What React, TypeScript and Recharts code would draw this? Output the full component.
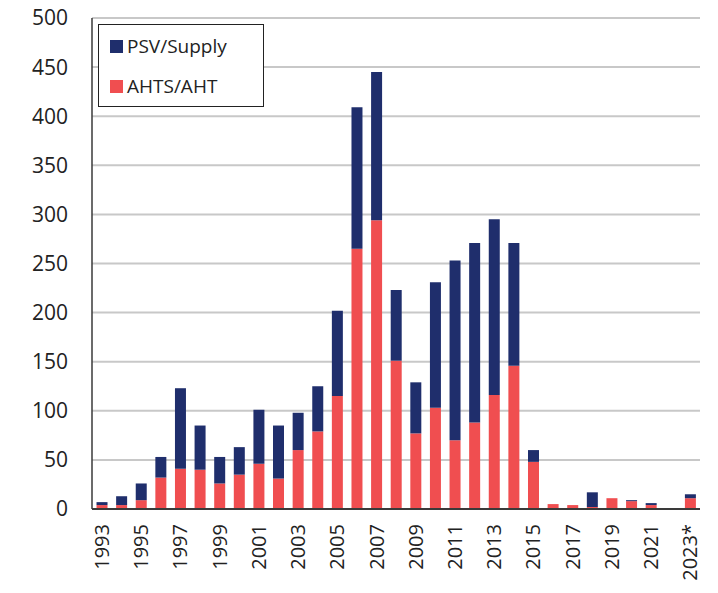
import { BarChart, Bar, XAxis, YAxis, CartesianGrid } from "recharts";

// values (vessel counts per year)
const years = [
  "1993", "1994", "1995", "1996", "1997", "1998", "1999", "2000", "2001", "2002",
  "2003", "2004", "2005", "2006", "2007", "2008", "2009", "2010", "2011", "2012",
  "2013", "2014", "2015", "2016", "2017", "2018", "2019", "2020", "2021", "2022", "2023*",
];
const ahts = [4, 4, 9, 32, 41, 40, 26, 35, 46, 31, 60, 79, 115, 265, 294, 151, 77, 103, 70, 88, 116, 146, 48, 5, 4, 2, 11, 8, 4, 0, 11];
const psv = [3, 9, 17, 21, 82, 45, 27, 28, 55, 54, 38, 46, 87, 144, 151, 72, 52, 128, 183, 183, 179, 125, 12, 0, 0, 15, 0, 1, 2, 0, 4];
const yTicks = [0, 50, 100, 150, 200, 250, 300, 350, 400, 450, 500];
const seriesNames = ["PSV/Supply", "AHTS/AHT"];

const NAVY = "#1f2e6c";
const RED = "#f04e50";
const FONT = "'Open Sans', 'DejaVu Sans', sans-serif";

const data = years.map((y, i) => ({ year: y, ahts: ahts[i], psv: psv[i] }));

function YearTick({ x, y, payload }: any) {
  return (
    <g transform={`translate(${x},${y + 13})`}>
      <text transform="rotate(-90)" textAnchor="end" dy="0.36em" fill="#222" fontSize={20} fontFamily={FONT}>
        {payload.value}
      </text>
    </g>
  );
}

// legend drawn as an overlay box inside the plot, top-left
function LegendBox() {
  const colors = [NAVY, RED];
  return (
    <div
      style={{
        position: "absolute",
        left: 98,
        top: 24,
        width: 166,
        height: 83,
        boxSizing: "border-box",
        border: "1.5px solid #222",
        background: "#fff",
        padding: "1px 0 0 11px",
        fontFamily: FONT,
        fontSize: 19,
        color: "#222",
      }}
    >
      {seriesNames.map((name, i) => (
        <div key={name} style={{ display: "flex", alignItems: "center", height: 40 }}>
          <span style={{ width: 13, height: 13, background: colors[i], marginRight: 4, display: "inline-block" }} />
          {name}
        </div>
      ))}
    </div>
  );
}

export default function App() {
  return (
    <div style={{ position: "absolute", left: 0, top: 0, width: 718, height: 593, background: "#fff" }}>
      <BarChart
        width={718}
        height={593}
        data={data}
        margin={{ top: 18, right: 18, left: 0, bottom: 0 }}
        barCategoryGap="23%"
      >
        <CartesianGrid stroke="#c8c8c8" strokeWidth={2} vertical={false} />
        <XAxis
          dataKey="year"
          interval={1}
          height={84}
          tick={<YearTick />}
          tickLine={false}
          tickSize={0}
          axisLine={{ stroke: "#3a3a3a", strokeWidth: 2 }}
        />
        <YAxis
          domain={[0, 500]}
          ticks={yTicks}
          width={92}
          tickLine={false}
          tickSize={0}
          tickMargin={24}
          axisLine={{ stroke: "#3a3a3a", strokeWidth: 1.5 }}
          tick={{ fill: "#222", fontSize: 21, fontFamily: FONT }}
        />
        <Bar dataKey="ahts" stackId="a" fill={RED} isAnimationActive={false} />
        <Bar dataKey="psv" stackId="a" fill={NAVY} isAnimationActive={false} />
      </BarChart>
      <LegendBox />
    </div>
  );
}
